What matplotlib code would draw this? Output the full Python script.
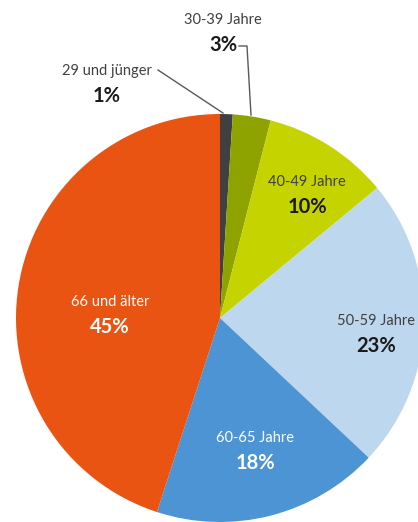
import matplotlib.pyplot as plt

# Altersverteilung (Anteile in %), im Uhrzeigersinn ab 12 Uhr
labels = ['29 und jünger', '30-39 Jahre', '40-49 Jahre', '50-59 Jahre', '60-65 Jahre', '66 und älter']
values = [1, 3, 10, 23, 18, 45]
colors = ['#404040', '#8FA300', '#C5D400', '#BDD7EE', '#4C94D3', '#E95412']

# Beschriftungspositionen (Pixel, y von oben) und Textfarbe
label_pos = [(107, 71), (223, 20), (307, 182), (376, 321), (255, 438), (110, 302)]
text_colors = ['#404040', '#404040', '#404040', '#404040', 'white', 'white']
pct_colors = ['#1a1a1a', '#1a1a1a', '#1a1a1a', '#1a1a1a', 'white', 'white']

W, H = 418, 522
fig = plt.figure(figsize=(W / 100, H / 100), dpi=100)
ax = fig.add_axes([0, 0, 1, 1])

cx, cy, r = 220, H - 318, 204
ax.pie(values, colors=colors, startangle=90, counterclock=False,
       center=(cx, cy), radius=r, frame=True,
       wedgeprops=dict(linewidth=0))
ax.set_xlim(0, W)
ax.set_ylim(0, H)
ax.axis('off')

font = 'Lato'
for lab, v, (px, py), tc, pc in zip(labels, values, label_pos, text_colors, pct_colors):
    ax.text(px, H - py, lab, ha='center', va='center', fontsize=10.5,
            color=tc, family=font)
    ax.text(px, H - py - 25, f'{v}%', ha='center', va='center', fontsize=14.5,
            fontweight='bold', color=pc, family=font)

# Führungslinien für die kleinen Segmente
ax.plot([158, 223], [H - 70, H - 113], color='#595959', lw=1)
ax.plot([239, 247, 251], [H - 46, H - 46, H - 115], color='#595959', lw=1)

fig.savefig('out.png', dpi=100)
